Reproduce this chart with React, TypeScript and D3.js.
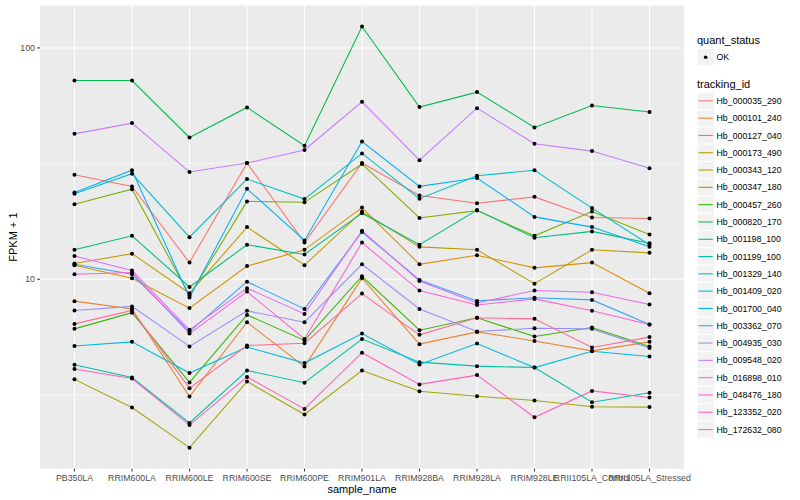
import React from "react";
import * as d3 from "d3";

const samples = [
  "PB350LA", "RRIM600LA", "RRIM600LE", "RRIM600SE", "RRIM600PE", "RRIM901LA",
  "RRIM928BA", "RRIM928LA", "RRIM928LE", "RRII105LA_Control", "RRII105LA_Stressed",
];

const trackingIds = [
  "Hb_000035_290", "Hb_000101_240", "Hb_000127_040", "Hb_000173_490", "Hb_000343_120",
  "Hb_000347_180", "Hb_000457_260", "Hb_000820_170", "Hb_001198_100", "Hb_001199_100",
  "Hb_001329_140", "Hb_001409_020", "Hb_001700_040", "Hb_003362_070", "Hb_004935_030",
  "Hb_009548_020", "Hb_016898_010", "Hb_048476_180", "Hb_123352_020", "Hb_172632_080",
];

const palette = [
  "#F8766D", "#EA8331", "#D89000", "#C09B00", "#A3A500", "#7CAE00", "#39B600",
  "#00BB4E", "#00BF7D", "#00C1A3", "#00BFC4", "#00BAE0", "#00B0F6", "#35A2FF",
  "#9590FF", "#C77CFF", "#E76BF3", "#FA62DB", "#FF62BC", "#FF6C91",
];

// FPKM + 1 per sample, in the order of `samples`
const hb000035 = [28.3, 25.2, 11.8, 31.8, 14.4, 31.8, 23.0, 21.3, 22.7, 18.5, 18.3];
const hb000101 = [8.04, 7.44, 3.11, 6.52, 4.19, 10.1, 5.24, 5.92, 5.41, 4.9, 5.36];
const hb000127 = [11.5, 10.1, 7.5, 11.4, 13.4, 20.4, 11.6, 12.7, 11.2, 11.8, 8.7];
const hb000173 = [11.7, 12.9, 8.7, 16.8, 11.5, 19.6, 13.8, 13.4, 9.57, 13.4, 13.0];
const hb000343 = [3.69, 2.79, 1.87, 3.61, 2.6, 4.03, 3.28, 3.12, 2.99, 2.81, 2.8];
const hb000347 = [21.1, 24.5, 8.5, 21.7, 21.5, 31.5, 18.4, 19.8, 15.4, 19.6, 15.6];
const hb000457 = [6.1, 7.17, 3.58, 7.01, 5.44, 10.3, 6.02, 6.81, 5.65, 6.18, 5.12];
const hb000820 = [72.3, 72.3, 41.0, 55.3, 37.8, 123.7, 55.5, 64.4, 45.3, 56.4, 52.8];
const hb001198 = [13.4, 15.4, 9.26, 14.1, 12.8, 19.3, 14.1, 19.9, 15.1, 16.1, 14.3];
const hb001199 = [4.27, 3.76, 2.39, 4.03, 3.57, 5.51, 4.38, 4.21, 4.15, 2.94, 3.23];
const hb001329 = [23.4, 28.6, 15.2, 27.1, 22.2, 35.0, 22.3, 28.0, 29.6, 20.3, 14.1];
const hb001409 = [5.14, 5.36, 3.93, 5.09, 4.34, 5.82, 4.28, 5.27, 4.15, 4.88, 4.63];
const hb001700 = [23.7, 29.6, 8.33, 24.6, 14.7, 39.4, 25.2, 27.4, 18.6, 16.8, 13.8];
const hb003362 = [11.6, 10.5, 5.94, 9.76, 7.44, 16.0, 9.93, 8.06, 8.31, 8.14, 6.37];
const hb004935 = [7.32, 7.63, 5.12, 7.3, 6.52, 11.6, 7.44, 5.94, 6.14, 6.1, 5.04];
const hb009548 = [42.5, 47.3, 29.1, 31.8, 36.2, 58.5, 32.7, 54.9, 38.5, 35.8, 30.2];
const hb016898 = [12.6, 10.9, 6.04, 9.15, 7.08, 16.2, 9.83, 7.9, 8.93, 8.79, 7.77];
const hb048476 = [10.5, 10.7, 5.82, 8.84, 5.52, 14.4, 8.93, 7.74, 8.22, 7.3, 6.37];
const hb123352 = [4.09, 3.72, 2.34, 3.78, 2.75, 4.81, 3.51, 3.85, 2.53, 3.29, 3.08];
const hb172632 = [6.41, 7.33, 3.38, 5.17, 5.29, 8.67, 5.75, 6.81, 6.74, 5.07, 5.62];

const seriesValues = [
  hb000035, hb000101, hb000127, hb000173, hb000343, hb000347, hb000457, hb000820,
  hb001198, hb001199, hb001329, hb001409, hb001700, hb003362, hb004935, hb009548,
  hb016898, hb048476, hb123352, hb172632,
];

const yTicks = [10, 100];
const yMinor = [Math.sqrt(10), Math.sqrt(1000)];

const FONT = "'Liberation Sans', Arial, Helvetica, sans-serif";

export default function App() {
  const W = 800, H = 500;
  const panel = { left: 40, right: 684, top: 5.5, bottom: 468.7 };

  const all = seriesValues.flat();
  const lo = Math.log10(d3.min(all) as number);
  const hi = Math.log10(d3.max(all) as number);
  const r = hi - lo;
  const x = d3.scalePoint<string>().domain(samples).range([panel.left, panel.right]).padding(0.6);
  const y = d3.scaleLog()
    .domain([Math.pow(10, lo - 0.05 * r), Math.pow(10, hi + 0.05 * r)])
    .range([panel.bottom, panel.top]);

  const line = d3.line<number>()
    .x((_, i) => x(samples[i]) as number)
    .y((v) => y(v));

  const legX = 697;
  const keyH = 17.3;
  const trackTop = 92.2;

  return (
    <svg width={W} height={H} style={{ position: "absolute", left: 0, top: 0, background: "#fff" }}
      fontFamily={FONT}>
      <rect x={0} y={0} width={W} height={H} fill="#fff" />
      <rect x={panel.left} y={panel.top} width={panel.right - panel.left}
        height={panel.bottom - panel.top} fill="#EBEBEB" />
      {yMinor.map((t) => (
        <line key={"mi" + t} x1={panel.left} x2={panel.right} y1={y(t)} y2={y(t)}
          stroke="#fff" strokeWidth={0.55} />
      ))}
      {yTicks.map((t) => (
        <line key={"ma" + t} x1={panel.left} x2={panel.right} y1={y(t)} y2={y(t)}
          stroke="#fff" strokeWidth={1.07} />
      ))}
      {samples.map((s) => (
        <line key={"gx" + s} x1={x(s)} x2={x(s)} y1={panel.top} y2={panel.bottom}
          stroke="#fff" strokeWidth={1.07} />
      ))}
      {seriesValues.map((vals, i) => (
        <path key={"l" + i} d={line(vals) as string} fill="none" stroke={palette[i]}
          strokeWidth={1.07} />
      ))}
      {seriesValues.map((vals, i) =>
        vals.map((v, j) => (
          <circle key={"p" + i + "-" + j} cx={x(samples[j])} cy={y(v)} r={2} fill="#000" />
        ))
      )}
      {/* y axis */}
      {yTicks.map((t) => (
        <g key={"yt" + t}>
          <line x1={panel.left - 2.75} x2={panel.left} y1={y(t)} y2={y(t)} stroke="#333" strokeWidth={1.07} />
          <text x={panel.left - 5} y={y(t)} dy="0.35em" textAnchor="end" fontSize={8.8} fill="#4D4D4D">
            {t}
          </text>
        </g>
      ))}
      {/* x axis */}
      {samples.map((s) => (
        <g key={"xt" + s}>
          <line x1={x(s)} x2={x(s)} y1={panel.bottom} y2={panel.bottom + 2.75} stroke="#333" strokeWidth={1.07} />
          <text x={x(s)} y={480.5} textAnchor="middle" fontSize={8.8} fill="#4D4D4D">{s}</text>
        </g>
      ))}
      <text x={(panel.left + panel.right) / 2} y={492.5} textAnchor="middle" fontSize={11} fill="#000">
        sample_name
      </text>
      <text transform={`translate(16.5, ${(panel.top + panel.bottom) / 2}) rotate(-90)`}
        textAnchor="middle" fontSize={11} fill="#000">
        FPKM + 1
      </text>

      {/* legend: quant_status */}
      <text x={legX} y={43.5} fontSize={11} fill="#000">quant_status</text>
      <rect x={legX} y={48.6} width={17.3} height={17.3} fill="#F2F2F2" stroke="#fff" strokeWidth={1} />
      <circle cx={legX + 8.65} cy={57.25} r={1.8} fill="#000" />
      <text x={716.5} y={57.25} dy="0.35em" fontSize={8.8} fill="#000">OK</text>

      {/* legend: tracking_id */}
      <text x={legX} y={87.6} fontSize={11} fill="#000">tracking_id</text>
      {trackingIds.map((id, i) => {
        const cy = trackTop + i * keyH + keyH / 2;
        return (
          <g key={"k" + id}>
            <rect x={legX} y={trackTop + i * keyH} width={17.3} height={keyH} fill="#F2F2F2"
              stroke="#fff" strokeWidth={1} />
            <line x1={legX + 1.5} x2={legX + 15.8} y1={cy} y2={cy} stroke={palette[i]} strokeWidth={1.07} />
            <text x={716.5} y={cy} dy="0.35em" fontSize={8.8} fill="#000">{id}</text>
          </g>
        );
      })}
    </svg>
  );
}
